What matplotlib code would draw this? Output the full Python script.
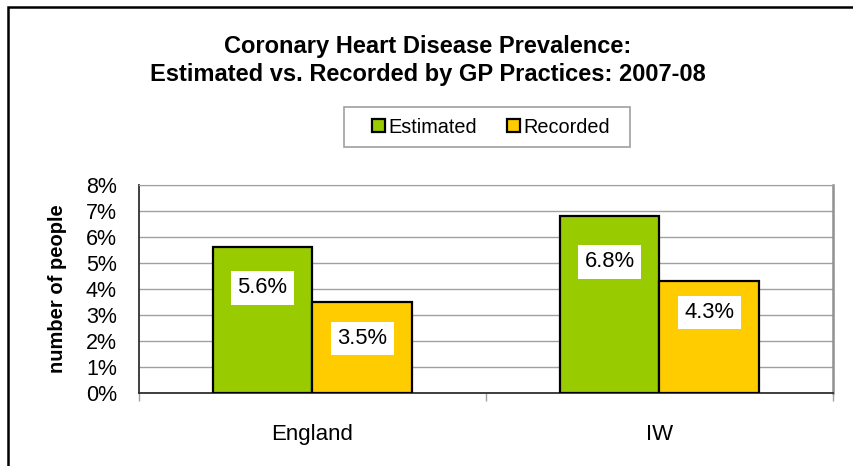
import matplotlib
matplotlib.use("Agg")
import matplotlib.pyplot as plt
from matplotlib.patches import Rectangle
import numpy as np

plt.rcParams['font.family'] = ['Liberation Sans', 'DejaVu Sans']

# data
areas = ['England', 'IW']
estimated = [5.6, 6.8]
recorded = [3.5, 4.3]
series_names = ['Estimated', 'Recorded']
yticks = [0, 1, 2, 3, 4, 5, 6, 7, 8]

# label placement (how far below the bar top each label box sits, in % units)
est_drop = [1.56, 1.76]
rec_drop = [1.4, 1.2]

green = '#99CC00'
yellow = '#FFCC00'

W, H = 854, 466
fig = plt.figure(figsize=(W / 100, H / 100), dpi=100)

# outer chart border (only left and top visible in the crop)
fig.patches.append(Rectangle((8 / W, -0.5), 2.0, 0.5 + 1 - 7 / H, transform=fig.transFigure,
                             fill=False, edgecolor='black', linewidth=1.8))
# legend frame, wider than the entries as in the original
fig.patches.append(Rectangle((344 / W, 1 - 147 / H), (630 - 344) / W, 40 / H, transform=fig.transFigure,
                             fill=False, edgecolor='#A0A0A0', linewidth=1.2))

ax = fig.add_axes([139 / W, (H - 393) / H, (833 - 139) / W, (393 - 185) / H])

x = np.arange(len(areas))
bw = 0.288
b1 = ax.bar(x - bw / 2, estimated, bw, color=green, edgecolor='black', linewidth=1.6, zorder=3,
            label=series_names[0])
b2 = ax.bar(x + bw / 2, recorded, bw, color=yellow, edgecolor='black', linewidth=1.6, zorder=3,
            label=series_names[1])

box = dict(boxstyle='square,pad=0.28', facecolor='white', edgecolor='none')
for i in range(len(areas)):
    ax.text(x[i] - bw / 2, estimated[i] - est_drop[i], '%.1f%%' % estimated[i], ha='center', va='center',
            fontsize=15.8, bbox=box, zorder=5)
    ax.text(x[i] + bw / 2, recorded[i] - rec_drop[i], '%.1f%%' % recorded[i], ha='center', va='center',
            fontsize=15.8, bbox=box, zorder=5)

ax.set_xlim(-0.5, len(areas) - 0.5)
ax.set_ylim(0, 8)
ax.set_yticks(yticks)
ax.set_yticklabels(['%d%%' % t for t in yticks], fontsize=15.5)
ax.tick_params(axis='y', length=0, pad=16)
ax.set_xticks(x)
ax.set_xticklabels(areas, fontsize=16)
ax.set_xticks(np.arange(-0.5, len(areas), 1.0), minor=True)
ax.tick_params(axis='x', which='major', length=0, pad=22)
ax.tick_params(axis='x', which='minor', length=6, color='#A0A0A0', width=1)
ax.grid(axis='y', color='#A0A0A0', linewidth=1, zorder=0)
ax.set_axisbelow(True)

ax.spines['left'].set_color('#303030')
ax.spines['bottom'].set_color('#303030')
ax.spines['left'].set_linewidth(1.3)
ax.spines['bottom'].set_linewidth(1.3)
ax.spines['top'].set_color('#A0A0A0')
ax.spines['right'].set_color('#909090')
ax.spines['right'].set_linewidth(1.8)

ax.set_ylabel('number of people', fontsize=14.5, fontweight='bold')
ax.yaxis.set_label_coords(-(139 - 67) / (833 - 139), 0.5)

fig.text(428 / W, 1 - 46 / H, 'Coronary Heart Disease Prevalence:', ha='center', va='center',
         fontsize=17, fontweight='bold')
fig.text(428 / W, 1 - 74 / H, 'Estimated vs. Recorded by GP Practices: 2007-08', ha='center', va='center',
         fontsize=17, fontweight='bold')

leg = fig.legend(handles=[b1, b2], labels=series_names, loc='center', bbox_to_anchor=(491 / W, 1 - 127 / H),
                 ncol=2, frameon=False, fontsize=14.3, handlelength=0.65, handleheight=0.65,
                 handletextpad=0.2, columnspacing=1.5, borderpad=0.6)

fig.savefig('out.png', dpi=100)
